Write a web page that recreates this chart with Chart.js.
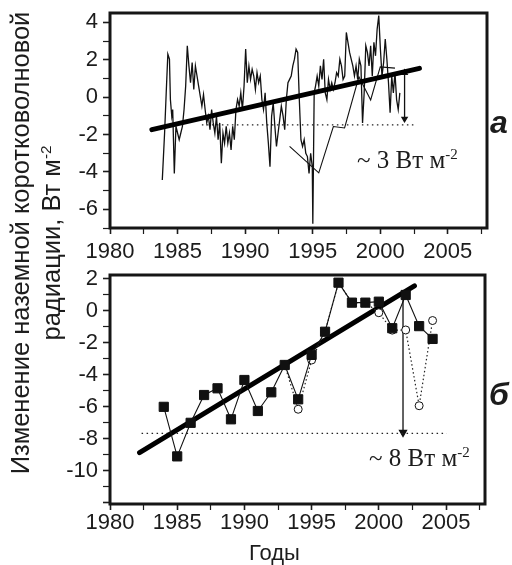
<!DOCTYPE html>
<html>
<head>
<meta charset="utf-8">
<script src="https://cdn.jsdelivr.net/npm/chart.js@4.4.1/dist/chart.umd.min.js"></script>
<style>
  html, body { margin: 0; padding: 0; background: #fff; }
  #wrap { position: relative; width: 512px; height: 565px; overflow: hidden; font-family: "Liberation Sans", Arial, sans-serif; color: #1c1c1c; }
  canvas { position: absolute; left: 0; }
  #cTop { top: 0; }
  #cBot { top: 262px; }
  .lbl { position: absolute; white-space: nowrap; line-height: 1; }
  #ytitle { left: -208px; top: 211px; width: 490px; height: 64px; font-size: 25.5px; line-height: 31px; text-align: center; transform: rotate(-90deg); }
  #ytitle sup, .note sup { font-size: 0.6em; vertical-align: 0.6em; line-height: 0; }
  .panel { font-size: 32px; font-weight: bold; font-style: italic; }
  .note { font-family: "Liberation Serif", "Times New Roman", serif; font-size: 25px; }
  #years { font-size: 22px; left: 249px; top: 542px; }
</style>
</head>
<body>
<div id="wrap">
  <canvas id="cTop" width="512" height="262"></canvas>
  <canvas id="cBot" width="512" height="303"></canvas>
  <div class="lbl" id="ytitle">Изменение наземной коротковолновой<br>радиации, Вт м<sup>-2</sup></div>
  <div class="lbl panel" style="left:490px;top:106px;">а</div>
  <div class="lbl panel" style="left:489px;top:378px;">б</div>
  <div class="lbl note" style="left:357px;top:147px;">~ 3 Вт м<sup>-2</sup></div>
  <div class="lbl note" style="left:369px;top:445px;">~ 8 Вт м<sup>-2</sup></div>
  <div class="lbl" id="years">Годы</div>
</div>
<script>
// --- panel a: monthly anomalies ---
const topYears = [
  1983.87,1984.04,1984.16,1984.28,1984.40,1984.47,1984.57,1984.64,1984.76,1984.88,
  1985.00,1985.12,1985.24,1985.36,1985.48,1985.60,1985.72,1985.84,1985.96,1986.08,
  1986.20,1986.32,1986.44,1986.56,1986.68,1986.80,1986.92,1987.04,1987.16,1987.28,
  1987.40,1987.52,1987.64,1987.76,1987.88,1988.00,1988.12,1988.24,1988.36,1988.48,
  1988.60,1988.72,1988.84,1988.96,1989.08,1989.20,1989.32,1989.44,1989.56,1989.68,
  1989.80,1989.92,1990.04,1990.16,1990.28,1990.40,1990.52,1990.64,1990.76,1990.88,
  1991.00,1991.12,1991.24,1991.36,1991.48,1991.60,1991.72,1991.84,1991.96,1992.08,
  1992.20,1992.32,1992.44,1992.56,1992.68,1992.81,1992.93,1993.05,1993.17,1993.29,
  1993.41,1993.53,1993.65,1993.77,1993.89,1994.01,1994.13,1994.25,1994.37,1994.49,
  1994.61,1994.73,1994.85,1994.97,1995.01,1995.11,1995.21,1995.33,1995.45,1995.57,
  1995.69,1995.81,1995.93,1996.05,1996.17,1996.29,1996.41,1996.53,1996.65,1996.77,
  1996.89,1997.01,1997.13,1997.25,1997.37,1997.49,1997.61,1997.73,1997.85,1997.97,
  1998.09,1998.21,1998.33,1998.45,1998.57,1998.69,1998.81,1998.93,1999.05,1999.17,
  1999.29,1999.41,1999.53,1999.65,1999.77,1999.89,2000.01,2000.13,2000.25,2000.37,
  2000.49,2000.61,2000.73,2000.85,2000.97,2001.09,2001.21,2001.33,2001.45
];
const topValues = [
  -4.43,-1.92,0.23,2.30,2.03,-0.13,-1.02,-0.66,-4.08,-1.56,
  -1.92,-2.28,-1.92,-1.56,-0.66,0.59,2.75,1.67,0.77,1.85,
  0.41,1.67,1.13,0.59,0.05,-0.48,0.14,-0.66,-1.38,-1.02,
  -1.74,-0.66,-1.38,-1.92,-1.02,-2.28,-1.38,-3.54,-1.92,-2.46,
  -1.56,-2.46,-1.92,-2.82,-1.56,-2.28,-0.66,-0.13,-0.48,0.23,
  -0.66,0.59,2.57,0.77,1.67,0.95,1.49,1.13,0.41,1.31,
  0.77,1.13,-0.13,-0.66,0.23,-1.38,-2.46,-3.72,-1.02,-0.31,
  -1.56,-2.64,-1.92,-1.20,-0.48,-1.02,-1.74,-0.13,0.77,0.95,
  1.13,1.67,2.03,2.57,2.39,-0.13,-2.28,-2.64,-2.28,-3.00,
  -3.18,-4.08,-3.00,-3.72,-6.77,0.23,0.59,1.13,0.59,1.67,
  0.95,2.03,0.23,-0.13,0.95,0.41,0.77,0.41,0.77,1.31,
  1.13,2.03,1.67,0.95,1.13,3.46,2.93,2.39,2.03,1.67,
  1.13,1.67,0.95,2.03,1.67,-1.38,0.23,2.75,2.39,1.67,
  2.75,1.13,2.93,2.21,3.64,4.36,2.57,1.13,1.85,3.11,
  2.03,0.77,-0.84,1.13,0.23,1.31,-0.13,-0.66,0.23
];
// thin smoothed curve over the 1993-2001 part
const smoothYears = [1993.29, 1995.45, 1996.53, 1997.36, 1998.42, 1999.29, 2000.0, 2001.09];
const smoothValues = [-2.63, -4.05, -1.57, -1.65, 1.09, -0.15, 1.62, 1.55];
const topTrendYears = [1983.1, 2002.9];
const topTrendValues = [-1.74, 1.54];
const topLevelYears = [1986.8, 2002.7];
const topLevel = -1.48;
const topArrowYear = 2001.8;
const topArrowValues = [1.3, -1.16];

// --- panel б: annual values ---
const years = [1984,1985,1986,1987,1988,1989,1990,1991,1992,1993,1994,1995,1996,1997,1998,1999,2000,2001,2002,2003,2004];
const squareValues = [-6.0,-9.1,-7.0,-5.26,-4.84,-6.78,-4.32,-6.26,-5.09,-3.38,-5.53,-2.75,-1.3,1.77,0.52,0.52,0.58,-1.08,1.0,-0.95,-1.75];
const circleYears = [1993,1994,1995,1996,1997,1998,1999,2000,2001,2002,2003,2004];
const circleValues = [-3.38,-6.15,-3.07,-1.3,1.77,0.52,0.52,-0.11,-1.2,-1.19,-5.93,-0.6];
const botTrendYears = [1982.2, 2002.65];
const botTrendValues = [-8.87, 1.57];
const botLevelYears = [1982.35, 2005.05];
const botLevel = -7.66;
const botArrowYear = 2001.8;
const botArrowValues = [1.1, -7.6];

const tickFont = { family: '"Liberation Sans", Arial, sans-serif', size: 22 };
const ink = '#1c1c1c';

function pts(xs, ys) {
  return xs.map((x, i) => ({ x: x, y: ys[i] }));
}

const framePlugin = {
  id: 'frame',
  afterDatasetsDraw(chart) {
    const a = chart.chartArea;
    const ctx = chart.ctx;
    ctx.save();
    ctx.lineWidth = 3;
    ctx.strokeStyle = '#161616';
    ctx.strokeRect(a.left, a.top, a.right - a.left, a.bottom - a.top);
    ctx.restore();
  }
};

function makeScales(yMin, yMax, yLowestLabel, xAxisHeight, xPad) {
  return {
    x: {
      type: 'linear', min: 1980, max: 2007.9,
      border: { display: false },
      grid: {
        drawOnChartArea: false, tickLength: 6, color: ink,
        tickWidth: c => (c.tick && c.tick.value % 5 === 0 ? 1.6 : 1.2)
      },
      ticks: {
        stepSize: 2.5, autoSkip: false, maxRotation: 0, includeBounds: false,
        padding: xPad, color: ink, font: tickFont,
        callback: v => (v % 5 === 0 ? String(v) : '')
      },
      afterFit(s) { s.height = xAxisHeight; s.paddingLeft = 0; s.paddingRight = 0; }
    },
    y: {
      min: yMin, max: yMax,
      border: { display: false },
      grid: {
        drawOnChartArea: false, tickLength: 7, color: ink,
        tickWidth: c => (c.tick && c.tick.value % 2 === 0 ? 1.6 : 1.2)
      },
      ticks: {
        stepSize: 1, autoSkip: false, includeBounds: false,
        padding: 5, color: ink, font: tickFont,
        callback: v => (v % 2 === 0 && v >= yLowestLabel ? String(v) : '')
      },
      afterFit(s) { s.width = 110; s.paddingTop = 0; s.paddingBottom = 0; }
    }
  };
}

const common = {
  responsive: false,
  animation: false,
  events: [],
  plugins: { legend: { display: false }, tooltip: { enabled: false } }
};

new Chart(document.getElementById('cTop'), {
  type: 'line',
  data: {
    datasets: [
      { data: pts(topTrendYears, topTrendValues), borderColor: '#000', borderWidth: 5, borderCapStyle: 'round', pointRadius: 0 },
      { data: pts(topYears, topValues), borderColor: '#111', borderWidth: 1.3, pointRadius: 0, tension: 0 },
      { data: pts(smoothYears, smoothValues), borderColor: '#111', borderWidth: 1.1, pointRadius: 0 },
      { data: pts(topLevelYears, topLevelYears.map(() => topLevel)), borderColor: '#222', borderWidth: 1.3, borderDash: [1.5, 3.5], pointRadius: 0 },
      { data: pts([topArrowYear, topArrowYear], topArrowValues), borderColor: '#111', borderWidth: 1.3,
        pointStyle: 'triangle', pointRadius: 3, rotation: [0, 180], backgroundColor: '#111', pointBorderColor: '#111' }
    ]
  },
  options: Object.assign({}, common, {
    layout: { padding: { top: 13, right: 25, left: 0, bottom: 0 } },
    scales: makeScales(-7, 4.5, -6, 34, 5)
  }),
  plugins: [framePlugin]
});

new Chart(document.getElementById('cBot'), {
  type: 'line',
  data: {
    datasets: [
      { data: pts(years, squareValues), borderColor: '#111', borderWidth: 1.1, pointStyle: 'rect', pointRadius: 6.5,
        pointBackgroundColor: '#111', pointBorderColor: '#111', pointBorderWidth: 1 },
      { data: pts(circleYears, circleValues), borderColor: '#222', borderWidth: 1.2, borderDash: [1.5, 2.5], pointStyle: 'circle', pointRadius: 4,
        pointBackgroundColor: '#fff', pointBorderColor: '#111', pointBorderWidth: 1 },
      { data: pts(botTrendYears, botTrendValues), borderColor: '#000', borderWidth: 5, borderCapStyle: 'round', pointRadius: 0 },
      { data: pts(botLevelYears, botLevelYears.map(() => botLevel)), borderColor: '#222', borderWidth: 1.3, borderDash: [1.5, 3.5], pointRadius: 0 },
      { data: pts([botArrowYear, botArrowYear], botArrowValues), borderColor: '#111', borderWidth: 1.3,
        pointStyle: 'triangle', pointRadius: [0, 4], rotation: [0, 180], backgroundColor: '#111', pointBorderColor: '#111' }
    ]
  },
  options: Object.assign({}, common, {
    layout: { padding: { top: 13, right: 27, left: 0, bottom: 0 } },
    scales: makeScales(-12.08, 2.25, -10, 61, 0)
  }),
  plugins: [framePlugin]
});
</script>
</body>
</html>
